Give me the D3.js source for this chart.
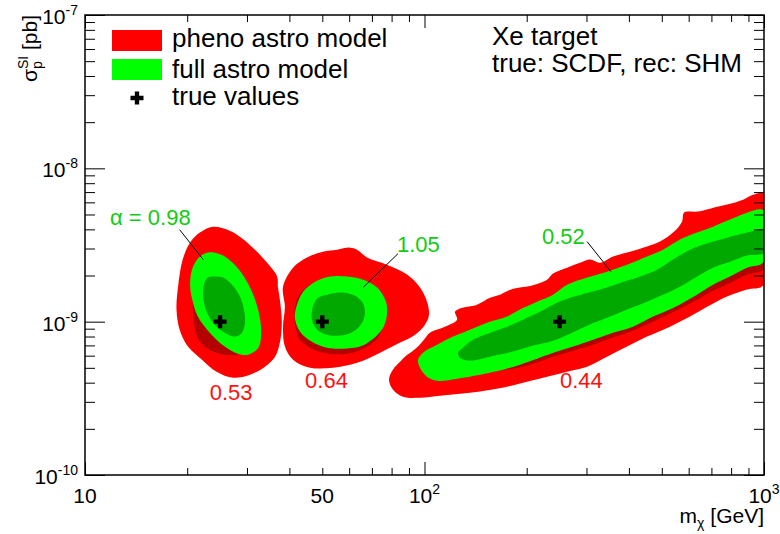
<!DOCTYPE html>
<html>
<head>
<meta charset="utf-8">
<script src="https://cdn.jsdelivr.net/npm/d3@7"></script>
<style>
  html, body { margin: 0; padding: 0; background: #fff; }
  svg { display: block; font-family: "Liberation Sans", Arial, Helvetica, sans-serif; }
</style>
</head>
<body>
<svg id="chart" width="780" height="534"></svg>
<script>
// ---------------- data ----------------
// benchmark points (WIMP mass in GeV, SI cross-section in pb)
const trueMass  = [25, 50, 250];
const trueSigma = [1e-9, 1e-9, 1e-9];

// coverage fractions quoted next to the 95% regions
const phenoAlpha = [0.53, 0.64, 0.44];
const fullAlpha  = [0.98, 1.05, 0.52];

// axis ticks
const massTicks        = [10, 50, 100, 1000];
const massTickBase     = ["10", "50", "10", "10"];
const massTickExp      = ["", "", "2", "3"];
const massMinor        = [20, 30, 40, 50, 60, 70, 80, 90, 200, 300, 400, 500, 600, 700, 800, 900];
const sigmaTicks       = [1e-10, 1e-9, 1e-8, 1e-7];
const sigmaTickBase    = ["10", "10", "10", "10"];
const sigmaTickExp     = ["-10", "-9", "-8", "-7"];
const sigmaMinor       = [2e-10, 3e-10, 4e-10, 5e-10, 6e-10, 7e-10, 8e-10, 9e-10,
                          2e-9, 3e-9, 4e-9, 5e-9, 6e-9, 7e-9, 8e-9, 9e-9,
                          2e-8, 3e-8, 4e-8, 5e-8, 6e-8, 7e-8, 8e-8, 9e-8];

// reconstructed regions, [m (GeV), sigma (pb)] along each boundary
// pheno astro model, 95% and 68%
const pheno95_25 = [[23.8,4.16e-9],[26.3,3.98e-9],[28.6,3.58e-9],[31.2,3.04e-9],[34.4,2.42e-9],[36.8,1.97e-9],[37.0,1.69e-9],[37.5,1.39e-9],[38.0,9.85e-10],[37.5,7.30e-10],[36.3,5.91e-10],[33.9,5.09e-10],[30.6,4.51e-10],[27.3,4.31e-10],[24.4,4.72e-10],[22.1,5.65e-10],[20.1,6.88e-10],[19.0,8.87e-10],[18.6,1.20e-9],[18.8,1.69e-9],[19.4,2.54e-9],[20.4,3.28e-9],[21.8,3.81e-9]];
const pheno68_25 = [[21.1,2.09e-9],[24.1,2.28e-9],[27.7,1.97e-9],[31.0,1.39e-9],[32.4,9.28e-10],[31.0,7.08e-10],[28.6,6.18e-10],[25.8,6.09e-10],[23.3,6.57e-10],[21.8,7.41e-10],[21.1,8.87e-10],[20.8,1.16e-9],[20.8,1.57e-9]];
const pheno95_50 = [[38.3,1.69e-9],[41.0,2.25e-9],[45.1,2.62e-9],[50.2,2.86e-9],[55.3,2.95e-9],[60.3,3.04e-9],[63.3,2.95e-9],[67.7,2.62e-9],[77.5,2.35e-9],[88.8,2.03e-9],[97.0,1.67e-9],[101.7,1.35e-9],[103.1,1.11e-9],[100.3,9.56e-10],[93.8,8.23e-10],[84.7,7.30e-10],[74.0,6.28e-10],[63.3,5.40e-10],[53.8,5.01e-10],[46.0,5.01e-10],[41.0,5.65e-10],[38.8,6.88e-10],[38.3,9.28e-10],[38.8,1.25e-9]];
const pheno68_50 = [[41.5,1.00e-9],[43.0,7.63e-10],[47.3,6.57e-10],[52.7,6.18e-10],[59.1,6.18e-10],[65.9,6.67e-10],[72.5,7.75e-10],[74.5,8.87e-10],[75.5,1.39e-9],[69.1,1.74e-9],[56.4,1.88e-9],[46.0,1.74e-9],[42.1,1.39e-9]];
const pheno95_250 = [[78.6,4.18e-10],[80.7,4.86e-10],[84.7,5.48e-10],[87.6,5.91e-10],[91.9,6.38e-10],[95.7,6.88e-10],[99.6,7.63e-10],[103.8,8.48e-10],[114.9,9.28e-10],[124.7,1.03e-9],[123.0,1.16e-9],[127.2,1.22e-9],[142.8,1.29e-9],[155.9,1.43e-9],[166.9,1.50e-9],[182.3,1.64e-9],[204.6,1.71e-9],[229.6,1.88e-9],[239.1,2.06e-9],[263.0,2.25e-9],[287.1,2.42e-9],[307.3,2.54e-9],[328.8,2.42e-9],[359.2,2.66e-9],[403.0,2.86e-9],[452.3,3.09e-9],[493.9,3.33e-9],[539.5,3.81e-9],[573.5,4.49e-9],[581.3,5.14e-9],[635.0,5.22e-9],[693.4,5.46e-9],[778.3,5.80e-9],[867.6,6.25e-9],[928.4,6.73e-9],[1000,6.83e-9],[1000,1.74e-9],[891.4,1.62e-9],[778.3,1.46e-9],[679.5,1.25e-9],[605.4,1.08e-9],[528.6,9.28e-10],[452.3,7.99e-10],[395.0,6.88e-10],[344.9,5.91e-10],[301.2,5.09e-10],[263.0,4.72e-10],[229.6,4.38e-10],[195.1,4.00e-10],[169.2,3.71e-10],[145.7,3.50e-10],[127.2,3.39e-10],[111.1,3.29e-10],[97.0,3.19e-10],[86.4,3.24e-10],[80.8,3.60e-10]];
const pheno68_250 = [[1000,2.21e-9],[891.4,2.03e-9],[794.2,1.79e-9],[707.8,1.59e-9],[635.0,1.39e-9],[539.5,1.15e-9],[471.1,1.00e-9],[411.3,8.74e-10],[359.2,7.87e-10],[313.7,7.08e-10],[274.0,6.47e-10],[239.1,5.91e-10],[208.8,5.32e-10],[182.3,4.93e-10],[159.1,4.79e-10],[136.1,4.58e-10],[118.9,4.44e-10],[111.1,4.86e-10],[123.0,6.57e-10],[166.9,8.87e-10],[328.8,1.50e-9],[648.0,2.74e-9],[1000,3.69e-9]];

// full astro model, 95% and 68%
const full95_25 = [[22.9,2.82e-9],[24.1,2.82e-9],[25.8,2.66e-9],[28.1,2.25e-9],[30.0,1.82e-9],[31.7,1.39e-9],[32.8,1.03e-9],[33.0,7.99e-10],[32.4,6.77e-10],[30.2,6.09e-10],[28.2,6.18e-10],[25.8,6.88e-10],[23.3,8.48e-10],[21.5,1.08e-9],[20.7,1.39e-9],[20.4,1.79e-9],[20.8,2.28e-9],[21.8,2.66e-9]];
const full68_25 = [[24.1,1.97e-9],[25.5,1.94e-9],[27.1,1.74e-9],[28.6,1.46e-9],[29.4,1.20e-9],[29.6,9.85e-10],[29.0,8.48e-10],[27.7,7.99e-10],[25.8,8.48e-10],[24.1,9.56e-10],[22.9,1.14e-9],[22.3,1.43e-9],[22.4,1.74e-9],[23.0,1.94e-9]];
const full95_50 = [[52.7,1.97e-9],[59.1,1.97e-9],[65.9,1.88e-9],[72.5,1.67e-9],[77.0,1.35e-9],[77.5,1.11e-9],[75.5,9.14e-10],[70.0,7.63e-10],[64.6,6.88e-10],[57.5,6.67e-10],[51.6,6.77e-10],[46.6,7.41e-10],[43.0,8.61e-10],[41.5,1.06e-9],[42.1,1.29e-9],[43.9,1.57e-9],[47.0,1.79e-9]];
const full68_50 = [[51.6,1.50e-9],[56.4,1.55e-9],[61.6,1.50e-9],[65.5,1.35e-9],[66.8,1.16e-9],[65.5,9.85e-10],[61.6,8.61e-10],[56.4,8.11e-10],[51.6,8.23e-10],[48.3,8.87e-10],[46.6,1.03e-9],[46.9,1.25e-9],[48.6,1.43e-9]];
const full95_250 = [[95.7,5.65e-10],[99.0,6.28e-10],[108.9,7.08e-10],[121.3,7.99e-10],[136.1,8.87e-10],[152.8,9.85e-10],[175.0,1.08e-9],[191.1,1.20e-9],[214.5,1.35e-9],[239.1,1.50e-9],[263.0,1.74e-9],[301.2,1.94e-9],[344.9,2.12e-9],[395.0,2.35e-9],[452.3,2.66e-9],[504.2,2.95e-9],[565.7,3.43e-9],[635.0,3.81e-9],[707.8,4.16e-9],[794.2,4.63e-9],[891.4,5.14e-9],[1000,5.30e-9],[1000,2.46e-9],[891.4,2.25e-9],[794.2,1.97e-9],[707.8,1.74e-9],[635.0,1.50e-9],[539.5,1.23e-9],[471.1,1.08e-9],[411.3,9.28e-10],[359.2,8.48e-10],[313.7,7.63e-10],[274.0,6.88e-10],[245.7,6.38e-10],[214.5,5.74e-10],[191.1,5.24e-10],[170.3,4.86e-10],[145.7,4.51e-10],[124.7,4.25e-10],[108.9,4.12e-10],[101.7,4.38e-10],[97.0,5.01e-10]];
const full68_250 = [[125.5,6.28e-10],[129.8,6.77e-10],[136.1,7.41e-10],[145.7,7.99e-10],[159.1,8.61e-10],[175.0,9.28e-10],[194.5,1.03e-9],[218.9,1.16e-9],[239.1,1.29e-9],[268.3,1.43e-9],[328.8,1.62e-9],[376.6,1.79e-9],[431.3,1.97e-9],[484.1,2.18e-9],[539.5,2.54e-9],[605.4,2.95e-9],[693.4,3.28e-9],[778.3,3.53e-9],[891.4,3.81e-9],[1000,3.98e-9],[1000,2.81e-9],[891.4,2.70e-9],[794.2,2.46e-9],[707.8,2.25e-9],[635.0,1.97e-9],[565.7,1.69e-9],[504.2,1.50e-9],[452.3,1.35e-9],[395.0,1.20e-9],[344.9,1.06e-9],[301.2,9.42e-10],[268.3,8.35e-10],[239.1,7.52e-10],[208.8,6.98e-10],[182.3,6.38e-10],[155.9,5.91e-10],[136.1,5.57e-10],[127.2,5.82e-10]];

// ---------------- layout ----------------
const frame = { left: 85, right: 764, top: 15, bottom: 475 };
const FONT_TICK = 21, FONT_EXP = 14, FONT_TEXT = 26, FONT_NUM = 22, FONT_TITLE = 21;
const RED = "#ff0000", DARK_RED = "#b40000", GREEN = "#00ff00", DARK_GREEN = "#00a800";
const LABEL_GREEN = "#11cc11", LABEL_RED = "#ff1010";

// where the coverage numbers sit (data coordinates) and their leader lines
const fullLabelAt   = [[11.85, 4.29e-9], [83.0, 2.86e-9], [221.9, 3.23e-9]];
const fullLeaderA   = [[19.0, 3.98e-9], [83.6, 2.78e-9], [301.2, 3.33e-9]];
const fullLeaderB   = [[22.3, 2.54e-9], [65.9, 1.67e-9], [354.3, 2.12e-9]];
const phenoLabelAt  = [[23.3, 3.10e-10], [44.5, 3.67e-10], [250.7, 3.71e-10]];

const svg = d3.select("#chart");

const x = d3.scaleLog().domain([10, 1000]).range([frame.left, frame.right]);
const y = d3.scaleLog().domain([1e-10, 1e-7]).range([frame.bottom, frame.top]);

svg.append("rect").attr("width", 780).attr("height", 534).attr("fill", "#fff");

svg.append("defs").append("clipPath").attr("id", "plot-area")
  .append("rect")
  .attr("x", frame.left).attr("y", frame.top)
  .attr("width", frame.right - frame.left).attr("height", frame.bottom - frame.top);

// ---------------- filled regions ----------------
const outline = d3.line()
  .x(d => x(d[0]))
  .y(d => y(d[1]))
  .curve(d3.curveCatmullRomClosed.alpha(0.5));

const layers = [
  { fill: RED,        shapes: [pheno95_25, pheno95_50, pheno95_250] },
  { fill: DARK_RED,   shapes: [pheno68_25, pheno68_50, pheno68_250] },
  { fill: GREEN,      shapes: [full95_25, full95_50, full95_250] },
  { fill: DARK_GREEN, shapes: [full68_25, full68_50, full68_250] }
];

const regions = svg.append("g").attr("clip-path", "url(#plot-area)");
layers.forEach(layer => {
  regions.append("g")
    .selectAll("path")
    .data(layer.shapes)
    .join("path")
    .attr("d", outline)
    .attr("fill", layer.fill)
    .attr("stroke", "none");
});

// ---------------- benchmark markers ----------------
const cross = d3.symbol().type(d3.symbolCross).size(94);
svg.append("g")
  .selectAll("path")
  .data(trueMass.map((m, i) => [m, trueSigma[i]]))
  .join("path")
  .attr("transform", d => `translate(${x(d[0])},${y(d[1])})`)
  .attr("d", cross)
  .attr("fill", "#000");

// ---------------- coverage labels ----------------
const ann = svg.append("g");
fullAlpha.forEach((a, i) => {
  ann.append("line")
    .attr("x1", x(fullLeaderA[i][0])).attr("y1", y(fullLeaderA[i][1]))
    .attr("x2", x(fullLeaderB[i][0])).attr("y2", y(fullLeaderB[i][1]))
    .attr("stroke", "#000").attr("stroke-width", 1);
  ann.append("text")
    .attr("x", x(fullLabelAt[i][0])).attr("y", y(fullLabelAt[i][1]))
    .attr("font-size", FONT_NUM).attr("fill", LABEL_GREEN)
    .text((i === 0 ? "\u03b1 = " : "") + a.toFixed(2));
});
phenoAlpha.forEach((a, i) => {
  ann.append("text")
    .attr("x", x(phenoLabelAt[i][0])).attr("y", y(phenoLabelAt[i][1]))
    .attr("font-size", FONT_NUM).attr("fill", LABEL_RED)
    .text(a.toFixed(2));
});

// ---------------- axes ----------------
function tickRow(axisFn, scale, values, size, tx, ty) {
  const g = svg.append("g")
    .attr("transform", `translate(${tx},${ty})`)
    .call(axisFn(scale).tickValues(values).tickSize(size).tickFormat(""));
  g.select(".domain").remove();
  g.selectAll("line").attr("stroke", "#000").attr("stroke-width", 1);
}
const majorX = [10, 100, 1000];
tickRow(d3.axisBottom, x, majorX, -13, 0, frame.bottom);
tickRow(d3.axisBottom, x, massMinor, -7, 0, frame.bottom);
tickRow(d3.axisTop, x, majorX, -13, 0, frame.top);
tickRow(d3.axisTop, x, massMinor, -7, 0, frame.top);
tickRow(d3.axisLeft, y, sigmaTicks, -20, frame.left, 0);
tickRow(d3.axisLeft, y, sigmaMinor, -10, frame.left, 0);
tickRow(d3.axisRight, y, sigmaTicks, -20, frame.right, 0);
tickRow(d3.axisRight, y, sigmaMinor, -10, frame.right, 0);

svg.append("rect")
  .attr("x", frame.left).attr("y", frame.top)
  .attr("width", frame.right - frame.left).attr("height", frame.bottom - frame.top)
  .attr("fill", "none").attr("stroke", "#000").attr("stroke-width", 1.5);

// tick labels
massTicks.forEach((v, i) => {
  const t = svg.append("text")
    .attr("x", x(v)).attr("y", 503)
    .attr("text-anchor", "middle")
    .attr("font-size", FONT_TICK).attr("fill", "#000");
  t.append("tspan").text(massTickBase[i]);
  if (massTickExp[i]) t.append("tspan").attr("dy", -9).attr("font-size", FONT_EXP).text(massTickExp[i]);
});
sigmaTicks.forEach((v, i) => {
  const t = svg.append("text")
    .attr("x", 78).attr("y", y(v) + 9)
    .attr("text-anchor", "end")
    .attr("font-size", FONT_TICK).attr("fill", "#000");
  t.append("tspan").text(sigmaTickBase[i]);
  t.append("tspan").attr("dy", -9).attr("font-size", FONT_EXP).text(sigmaTickExp[i]);
});

// axis titles
const xt = svg.append("text")
  .attr("x", frame.right).attr("y", 523)
  .attr("text-anchor", "end")
  .attr("font-size", FONT_TITLE).attr("fill", "#000");
xt.append("tspan").text("m");
xt.append("tspan").attr("dy", 5).attr("font-size", 14).text("\u03c7");
xt.append("tspan").attr("dy", -5).text(" [GeV]");

const yt = svg.append("text")
  .attr("transform", `translate(37,${frame.top}) rotate(-90)`)
  .attr("text-anchor", "end")
  .attr("font-size", FONT_TITLE).attr("fill", "#000");
yt.append("tspan").text("\u03c3");
yt.append("tspan").attr("dy", 5).attr("font-size", 14).text("p");
yt.append("tspan").attr("dx", -8).attr("dy", -14).attr("font-size", 14).text("SI");
yt.append("tspan").attr("dy", 9).text(" [pb]");

// ---------------- legend ----------------
const legend = svg.append("g");
legend.append("rect").attr("x", 112).attr("y", 30).attr("width", 50).attr("height", 21).attr("fill", RED);
legend.append("rect").attr("x", 112).attr("y", 59).attr("width", 50).attr("height", 21).attr("fill", GREEN);
legend.append("path").attr("transform", "translate(137,98)").attr("d", cross).attr("fill", "#000");
[["pheno astro model", 47], ["full astro model", 78], ["true values", 105]].forEach(([s, by]) => {
  legend.append("text").attr("x", 172).attr("y", by)
    .attr("font-size", FONT_TEXT).attr("fill", "#000").text(s);
});

// target / halo model note
svg.append("text").attr("x", 492).attr("y", 45)
  .attr("font-size", FONT_TEXT).attr("fill", "#000").text("Xe target");
svg.append("text").attr("x", 492).attr("y", 72)
  .attr("font-size", FONT_TEXT).attr("fill", "#000").text("true: SCDF, rec: SHM");
</script>
</body>
</html>
